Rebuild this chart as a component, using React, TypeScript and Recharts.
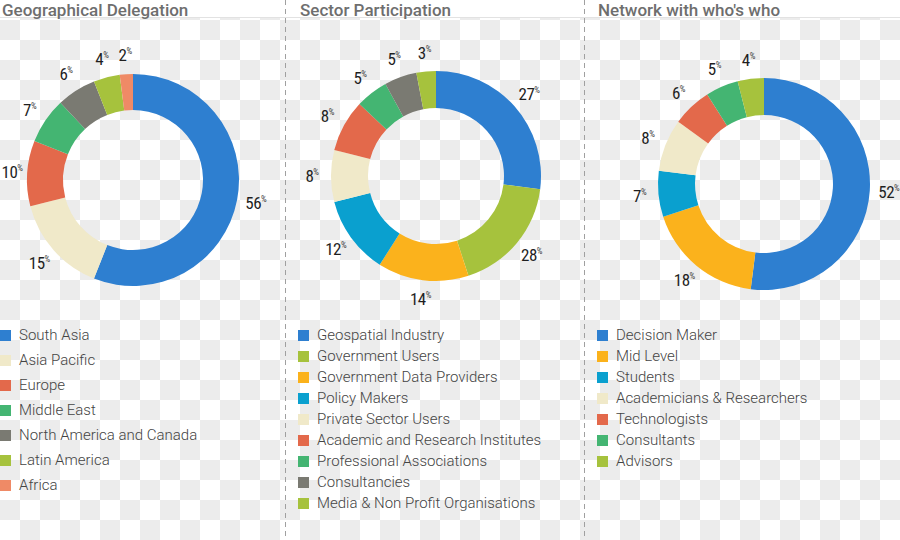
import { PieChart, Pie, Cell, Legend } from "recharts"

const geoRegions = ["South Asia", "Asia Pacific", "Europe", "Middle East", "North America and Canada", "Latin America", "Africa"]
const geoShares = [56, 15, 10, 7, 6, 4, 2]

const sectorNames = [
  "Geospatial Industry",
  "Government Users",
  "Government Data Providers",
  "Policy Makers",
  "Private Sector Users",
  "Academic and Research Institutes",
  "Professional Associations",
  "Consultancies",
  "Media & Non Profit Organisations",
]
// slice sizes as drawn; the printed figure for Government Users reads 28
const sectorShares = [27, 18, 14, 12, 8, 8, 5, 5, 3]
const sectorLabels = [27, 28, 14, 12, 8, 8, 5, 5, 3]

const networkRoles = ["Decision Maker", "Mid Level", "Students", "Academicians & Researchers", "Technologists", "Consultants", "Advisors"]
const networkShares = [52, 18, 7, 8, 6, 5, 4]

const BLUE = "#2e7fd0"
const BEIGE = "#f0e9c9"
const RED = "#e3694b"
const GREEN = "#44b572"
const GREY = "#7a7a72"
const LIME = "#a6c23d"
const SALMON = "#ef8a66"
const ORANGE = "#fbb21c"
const CYAN = "#0aa0cf"

const geoColors = [BLUE, BEIGE, RED, GREEN, GREY, LIME, SALMON]
const sectorColors = [BLUE, LIME, ORANGE, CYAN, BEIGE, RED, GREEN, GREY, LIME]
const networkColors = [BLUE, ORANGE, CYAN, BEIGE, RED, GREEN, LIME]

const RADIAN = Math.PI / 180

function makeLabel(texts: (string | number)[]) {
  return (props: any) => {
    const { cx, cy, midAngle, outerRadius, index } = props
    const r = outerRadius + 19
    const x = cx + r * Math.cos(-midAngle * RADIAN)
    const y = cy + r * Math.sin(-midAngle * RADIAN)
    return (
      <text
        x={Math.max(x, 12)}
        y={y + 6}
        textAnchor="middle"
        fill="#1f1f1f"
        fontFamily="'Roboto Condensed', Roboto, sans-serif"
        fontSize={17}
        letterSpacing={-0.5}
      >
        {texts[index]}
        <tspan fontSize={9} dy={-7} fill="#444">%</tspan>
      </text>
    )
  }
}

type PanelProps = {
  title: string
  names: string[]
  shares: number[]
  labels: (string | number)[]
  colors: string[]
  left: number
  width: number
  titleLeft: number
  cx: number
  cy: number
  inner: number
  outer: number
  legendLeft: number
  rowHeight: number
}

function Panel(p: PanelProps) {
  const data = p.names.map((name, i) => ({ name, value: p.shares[i] }))
  return (
    <div style={{ position: "absolute", left: p.left, top: 0, width: p.width, height: 540 }}>
      <div
        style={{
          position: "absolute",
          left: p.titleLeft,
          top: 0,
          lineHeight: "20px",
          fontFamily: "Roboto, sans-serif",
          fontWeight: 500,
          fontSize: 17,
          color: "#6e6e6e",
          whiteSpace: "nowrap",
        }}
      >
        {p.title}
      </div>
      <PieChart width={p.width} height={540} margin={{ top: 0, right: 0, bottom: 0, left: 0 }}>
        <Pie
          data={data}
          dataKey="value"
          nameKey="name"
          cx={p.cx}
          cy={p.cy}
          innerRadius={p.inner}
          outerRadius={p.outer}
          startAngle={90}
          endAngle={-270}
          stroke="none"
          label={makeLabel(p.labels)}
          labelLine={false}
          isAnimationActive={false}
        >
          {data.map((d, i) => (
            <Cell key={d.name} fill={p.colors[i]} />
          ))}
        </Pie>
        <Legend
          layout="vertical"
          align="center"
          verticalAlign="middle"
          wrapperStyle={{ top: 335 - p.rowHeight / 2, left: p.legendLeft, width: p.width - p.legendLeft }}
          content={() => (
            <div>
              {p.names.map((name, i) => (
                <div
                  key={name}
                  style={{
                    height: p.rowHeight,
                    display: "flex",
                    alignItems: "center",
                    fontFamily: "Roboto, sans-serif",
                    fontWeight: 300,
                    fontSize: 15,
                    color: "#444",
                    whiteSpace: "nowrap",
                  }}
                >
                  <span style={{ width: 11, height: 11, background: p.colors[i], marginRight: 8, flex: "none" }} />
                  {name}
                </div>
              ))}
            </div>
          )}
        />
      </PieChart>
    </div>
  )
}

const dashed = {
  position: "absolute" as const,
  top: 0,
  width: 1,
  height: 540,
  backgroundImage: "repeating-linear-gradient(to bottom, #a0a0a0 0 5px, transparent 5px 9px)",
}

export default function App() {
  return (
    <div
      style={{
        position: "absolute",
        left: 0,
        top: 0,
        width: 900,
        height: 540,
        overflow: "hidden",
        backgroundColor: "#fff",
        backgroundImage: "repeating-conic-gradient(#ececec 0% 25%, #ffffff 0% 50%)",
        backgroundSize: "40px 40px",
      }}
    >
      <div style={{ position: "absolute", left: 0, top: 0, width: 900, height: 17, background: "#fff", borderBottom: "1px solid #e2e2e2" }} />
      <div style={{ ...dashed, left: 285 }} />
      <div style={{ ...dashed, left: 584 }} />
      <Panel
        title="Geographical Delegation"
        names={geoRegions}
        shares={geoShares}
        labels={geoShares}
        colors={geoColors}
        left={0}
        width={285}
        titleLeft={2}
        cx={133}
        cy={180}
        inner={70}
        outer={106}
        legendLeft={0}
        rowHeight={25}
      />
      <Panel
        title="Sector Participation"
        names={sectorNames}
        shares={sectorShares}
        labels={sectorLabels}
        colors={sectorColors}
        left={286}
        width={298}
        titleLeft={14}
        cx={150}
        cy={176}
        inner={68}
        outer={105}
        legendLeft={12}
        rowHeight={21}
      />
      <Panel
        title="Network with who's who"
        names={networkRoles}
        shares={networkShares}
        labels={networkShares}
        colors={networkColors}
        left={585}
        width={315}
        titleLeft={13}
        cx={179}
        cy={184}
        inner={69}
        outer={106}
        legendLeft={12}
        rowHeight={21}
      />
    </div>
  )
}
